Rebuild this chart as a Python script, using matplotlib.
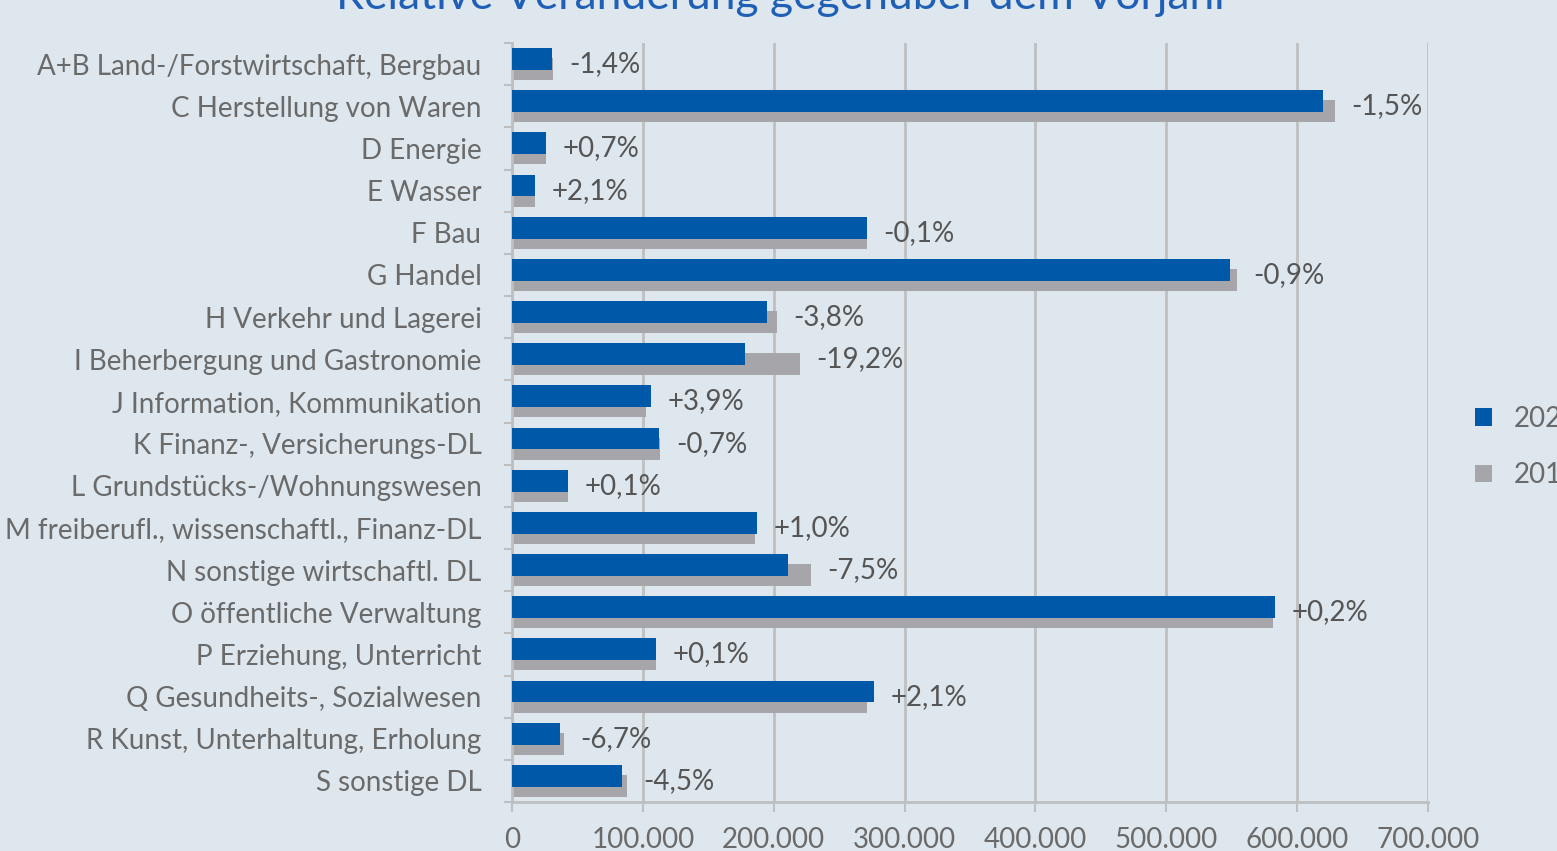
import numpy as np
import matplotlib
matplotlib.use("Agg")
import matplotlib.pyplot as plt
from matplotlib.ticker import FuncFormatter, MultipleLocator

plt.rcParams['font.family'] = ['Lato', 'DejaVu Sans']

categories = [
    "A+B Land-/Forstwirtschaft, Bergbau",
    "C Herstellung von Waren",
    "D Energie",
    "E Wasser",
    "F Bau",
    "G Handel",
    "H Verkehr und Lagerei",
    "I Beherbergung und Gastronomie",
    "J Information, Kommunikation",
    "K Finanz-, Versicherungs-DL",
    "L Grundstücks-/Wohnungswesen",
    "M freiberufl., wissenschaftl., Finanz-DL",
    "N sonstige wirtschaftl. DL",
    "O öffentliche Verwaltung",
    "P Erziehung, Unterricht",
    "Q Gesundheits-, Sozialwesen",
    "R Kunst, Unterhaltung, Erholung",
    "S sonstige DL",
]
v2020 = [30600, 619500, 26000, 17600, 271000, 548500, 194800, 178000, 106000,
         112300, 42800, 187000, 210800, 583000, 110000, 276500, 36700, 84000]
v2019 = [31000, 628700, 26000, 17200, 271200, 554000, 202400, 220000, 102400,
         113000, 42800, 185600, 228400, 581400, 110000, 271000, 39500, 87900]
changes = ["-1,4%", "-1,5%", "+0,7%", "+2,1%", "-0,1%", "-0,9%", "-3,8%", "-19,2%",
           "+3,9%", "-0,7%", "+0,1%", "+1,0%", "-7,5%", "+0,2%", "+0,1%", "+2,1%",
           "-6,7%", "-4,5%"]

blue = "#0058A9"
grey = "#A6A6AA"
bg = "#DEE7EE"
txt = "#6A6A6A"

fig = plt.figure(figsize=(15.57, 8.51), dpi=100, facecolor=bg)
ax = fig.add_axes([512 / 1557, 1 - 802 / 851, 916 / 1557, 759 / 851])
ax.set_facecolor("none")

y = np.arange(len(categories))
h = 0.52
off = 0.12
b19 = ax.barh(y + off, v2019, height=h, color=grey, label="2019", zorder=2)
b20 = ax.barh(y - off, v2020, height=h, color=blue, label="2020", zorder=3)

for i, lab in enumerate(changes):
    xend = max(v2020[i], v2019[i])
    ax.annotate(lab, (xend, y[i]), xytext=(12, 0), textcoords="offset points",
                va="center", ha="left", fontsize=20, color="#555555")

ax.set_xlim(0, 700000)
ax.set_ylim(len(categories) - 0.5, -0.5)
ax.xaxis.set_major_locator(MultipleLocator(100000))
ax.xaxis.set_major_formatter(FuncFormatter(lambda v, p: f"{int(v):,}".replace(",", ".")))
ax.set_yticks(y)
ax.set_yticklabels(categories)
ax.set_yticks(np.arange(-0.5, len(categories), 1), minor=True)
ax.tick_params(axis="y", which="major", length=0, pad=22, labelsize=20, labelcolor=txt)
ax.tick_params(axis="y", which="minor", length=6, width=1.5, color="#BFBFBF")
ax.tick_params(axis="x", which="major", length=7, width=1.5, color="#BFBFBF",
               pad=11, labelsize=20, labelcolor=txt)
ax.grid(axis="x", color="#BFBFBF", linewidth=2, zorder=0)
ax.set_axisbelow(True)
for s in ["top", "right"]:
    ax.spines[s].set_visible(False)
for s in ["left", "bottom"]:
    ax.spines[s].set_color("#BFBFBF")
    ax.spines[s].set_linewidth(2)

fig.text(783 / 1557, 1 - 9 / 851, "Relative Veränderung gegenüber dem Vorjahr",
         ha="center", va="baseline", fontsize=32, color="#1F5FB5")

fig.legend(handles=[b20, b19], labels=["2020", "2019"], loc="center left",
           bbox_to_anchor=(1450 / 1557, 1 - 447 / 851), frameon=False,
           fontsize=20, labelcolor=txt, handlelength=0.6, handleheight=0.6,
           handletextpad=0.8, labelspacing=1.1)

fig.savefig("out.png", dpi=100, facecolor=bg)
